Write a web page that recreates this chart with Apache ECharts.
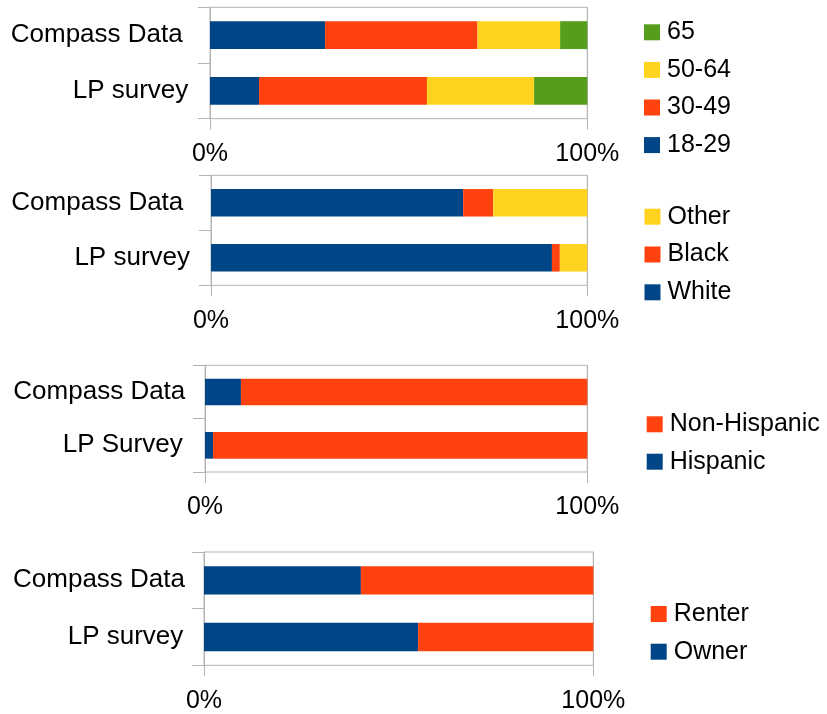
<!DOCTYPE html>
<html>
<head>
<meta charset="utf-8">
<script src="https://cdn.jsdelivr.net/npm/echarts@6/dist/echarts.min.js"></script>
<style>
html,body{margin:0;padding:0;background:#fff;}
#chart{width:827px;height:714px;}
</style>
</head>
<body>
<div id="chart"></div>
<script>
// ---- data ----
var categories1 = ['Compass Data', 'LP survey'];
var categories2 = ['Compass Data', 'LP survey'];
var categories3 = ['Compass Data', 'LP Survey'];
var categories4 = ['Compass Data', 'LP survey'];
var xTicks = [0, 100];

var ageNames = ['18-29', '30-49', '50-64', '65'];
var age18_29 = [30.5, 13.0];
var age30_49 = [40.4, 44.5];
var age50_64 = [21.9, 28.4];
var age65    = [7.2, 14.1];

var raceNames = ['White', 'Black', 'Other'];
var raceWhite = [67.0, 90.6];
var raceBlack = [8.0, 2.1];
var raceOther = [25.0, 7.3];

var ethNames = ['Hispanic', 'Non-Hispanic'];
var ethHispanic = [9.4, 2.1];
var ethNonHispanic = [90.6, 97.9];

var tenureNames = ['Owner', 'Renter'];
var tenureOwner = [40.3, 55.0];
var tenureRenter = [59.7, 45.0];

// ---- styles ----
var BLUE = '#004586', RED = '#ff420e', YELLOW = '#ffd320', GREEN = '#579d1c';
var GRAY = '#b3b3b3';
var FONT = 'Liberation Sans';

var grids = [
  {left: 210, top: 7.3, width: 377.3, height: 111.4},
  {left: 211, top: 175.3, width: 376.3, height: 110},
  {left: 205, top: 365.3, width: 382.3, height: 106.7},
  {left: 204, top: 552, width: 389.3, height: 113.3}
];
var yMargins = [21.7, 21, 19.7, 19];
// right padding per category label (fine alignment of label right edges)
var yLabelPads = [[5.6, 0], [6.7, 0], [0, 2.6], [0, 1.7]];
var cats = [categories1, categories2, categories3, categories4];

var option = {
  animation: false,
  backgroundColor: '#fff',
  textStyle: {fontFamily: FONT},
  grid: grids.map(function (g) {
    return Object.assign({show: true, borderColor: GRAY, borderWidth: 1, containLabel: false}, g);
  }),
  xAxis: grids.map(function (g, i) {
    return {
      type: 'value', gridIndex: i, min: xTicks[0], max: xTicks[1], interval: 100,
      axisLine: {show: false},
      axisTick: {show: true, length: 11, lineStyle: {color: GRAY}},
      splitLine: {show: true, lineStyle: {color: GRAY}},
      axisLabel: {formatter: '{value}%', fontSize: 25, color: '#000', fontFamily: FONT, margin: 23}
    };
  }),
  yAxis: grids.map(function (g, i) {
    return {
      type: 'category', gridIndex: i, inverse: true,
      data: cats[i].map(function (c, j) {
        return {value: c, textStyle: {padding: [4, yLabelPads[i][j], 0, 0]}};
      }),
      axisLine: {show: true, lineStyle: {color: GRAY}},
      axisTick: {show: true, length: 12, lineStyle: {color: GRAY}},
      splitLine: {show: false},
      axisLabel: {fontSize: 26, color: '#000', fontFamily: FONT, margin: yMargins[i]}
    };
  }),
  legend: [
    {data: ageNames.slice().reverse(), left: 644, top: 19.3, itemGap: 11.6},
    {data: raceNames.slice().reverse(), left: 644.5, top: 203.7, itemGap: 11.8},
    {data: ethNames.slice().reverse(), left: 646.7, top: 411.3, itemGap: 11.4},
    {data: tenureNames.slice().reverse(), left: 650.7, top: 601, itemGap: 11.7}
  ].map(function (l) {
    return Object.assign({
      orient: 'vertical', icon: 'rect', itemWidth: 16, itemHeight: 16, padding: 0,
      selectedMode: false,
      textStyle: {fontSize: 25, color: '#000', fontFamily: FONT, lineHeight: 26, padding: [0, 0, 0, 2]}
    }, l);
  }),
  series: []
};

function addSeries(gridIdx, name, values, color) {
  option.series.push({
    type: 'bar', name: name, data: values, stack: 'g' + gridIdx,
    xAxisIndex: gridIdx, yAxisIndex: gridIdx, barWidth: '50%',
    itemStyle: {color: color}
  });
}
addSeries(0, ageNames[0], age18_29, BLUE);
addSeries(0, ageNames[1], age30_49, RED);
addSeries(0, ageNames[2], age50_64, YELLOW);
addSeries(0, ageNames[3], age65, GREEN);
addSeries(1, raceNames[0], raceWhite, BLUE);
addSeries(1, raceNames[1], raceBlack, RED);
addSeries(1, raceNames[2], raceOther, YELLOW);
addSeries(2, ethNames[0], ethHispanic, BLUE);
addSeries(2, ethNames[1], ethNonHispanic, RED);
addSeries(3, tenureNames[0], tenureOwner, BLUE);
addSeries(3, tenureNames[1], tenureRenter, RED);

var chart = echarts.init(document.getElementById('chart'), null, {renderer: 'canvas'});
chart.setOption(option);
</script>
</body>
</html>
